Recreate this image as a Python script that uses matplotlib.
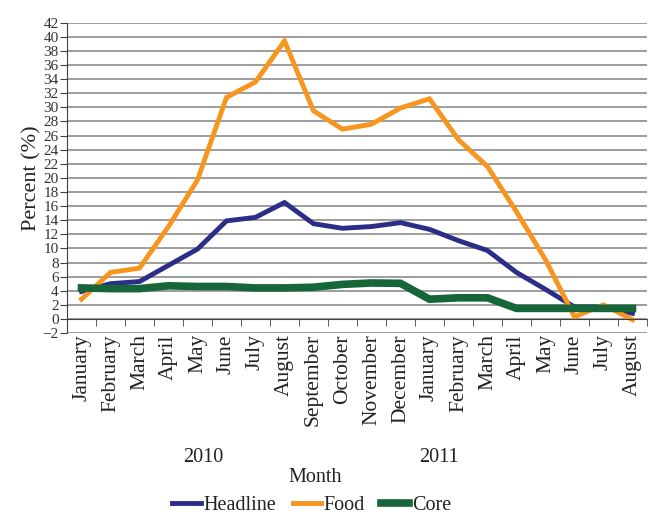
import matplotlib
matplotlib.use("Agg")
import matplotlib.pyplot as plt
from matplotlib.ticker import MultipleLocator, FixedLocator

plt.rcParams['font.family'] = ['Liberation Serif', 'DejaVu Serif']

months = ["January", "February", "March", "April", "May", "June", "July",
          "August", "September", "October", "November", "December",
          "January", "February", "March", "April", "May", "June", "July", "August"]
years = ["2010", "2011"]

headline = [3.9, 5.0, 5.3, 7.6, 9.9, 13.9, 14.4, 16.5, 13.5, 12.85, 13.1, 13.65,
            12.7, 11.1, 9.7, 6.6, 4.2, 1.7, 1.7, 0.8]
food = [2.8, 6.6, 7.2, 13.1, 19.7, 31.4, 33.6, 39.4, 29.5, 26.9, 27.6, 29.9,
        31.2, 25.4, 21.6, 15.2, 8.4, 0.3, 2.0, -0.1]
core = [4.4, 4.3, 4.3, 4.7, 4.6, 4.6, 4.4, 4.4, 4.5, 4.9, 5.1, 5.05,
        2.8, 3.0, 3.0, 1.5, 1.5, 1.5, 1.5, 1.5]

x = list(range(len(months)))

fig = plt.figure(figsize=(6.48, 5.14), dpi=100)
ax = fig.add_axes([0.1034, 0.352, 0.895, 0.604])

ax.plot(x, headline, color="#2b2d86", lw=3.5, label="Headline", solid_joinstyle="miter")
ax.plot(x, food, color="#f7961f", lw=3.5, label="Food", solid_joinstyle="miter")
ax.plot(x, core, color="#17663a", lw=5.5, label="Core", solid_joinstyle="miter")

ax.set_xlim(-0.5, len(months) - 0.5)
ax.set_ylim(-2, 42)
ax.yaxis.set_major_locator(MultipleLocator(2))
ax.grid(axis="y", color="#8c8c8c", lw=1.2)
ax.set_axisbelow(True)

for s in ["top", "right"]:
    ax.spines[s].set_visible(False)
ax.spines["bottom"].set_position(("data", 0))
ax.spines["left"].set_color("#404040")
ax.spines["bottom"].set_color("#404040")

# month names under the plot, ticks between categories
ax.set_xticks(x)
ax.set_xticklabels(months, rotation=90, fontsize=15.5, color="#222222")
ax.tick_params(axis="x", which="major", length=0, pad=11)
ax.xaxis.set_minor_locator(FixedLocator([i + 0.5 for i in range(-1, len(months))]))
ax.tick_params(axis="x", which="minor", length=5, color="#404040")
ax.tick_params(axis="y", length=5, labelsize=11, color="#404040", labelcolor="#333333", pad=1)

ax.set_ylabel("Percent (%)", fontsize=16, color="#222222", labelpad=1)

fig.text(203 / 648, 1 - 457 / 514, years[0], ha="center", va="center", fontsize=14.5, color="#222222")
fig.text(439 / 648, 1 - 457 / 514, years[1], ha="center", va="center", fontsize=14.5, color="#222222")
fig.text(315 / 648, 1 - 478 / 514, "Month", ha="center", va="center", fontsize=14.5, color="#222222")

fig.legend(loc="center", bbox_to_anchor=(312 / 648, 1 - 505 / 514), ncol=3, frameon=False,
           fontsize=14.5, handlelength=1.4, handletextpad=0.15, columnspacing=0.8,
           labelcolor="#222222")

fig.savefig("out.png", dpi=100)
